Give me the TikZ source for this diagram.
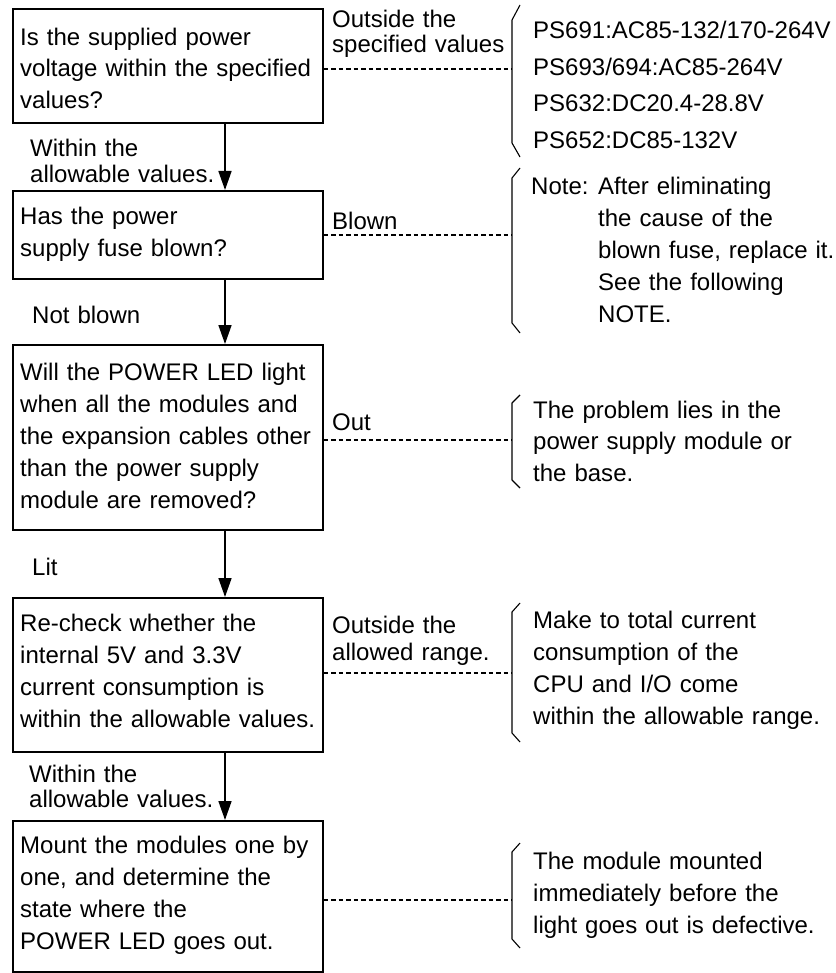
\documentclass[tikz,border=0pt]{standalone}
\usepackage{fontspec}
\setmainfont{Liberation Sans}
\usetikzlibrary{arrows.meta}
\begin{document}
\begin{tikzpicture}[x=1pt,y=-1pt,
  box/.style={draw, line width=1.6pt, inner sep=0pt, anchor=north west, minimum width=310pt},
  txt/.style={inner sep=0pt, anchor=base west, text width=400pt, align=left, font=\fontsize{24}{32}\selectfont},
  lbl/.style={txt, font=\fontsize{24}{25.5}\selectfont},
  arr/.style={line width=1.6pt, -{Triangle[length=19pt,width=13pt]}},
  dsh/.style={line width=1.2pt, dash pattern=on 4.5pt off 3pt},
  brc/.style={line width=1.1pt, line join=round}]
\useasboundingbox (0,0) rectangle (835,973);

% boxes
\node[box, minimum height=114pt] (b1) at (12,8) {};
\node[box, minimum height=88pt]  (b2) at (12,190) {};
\node[box, minimum height=185pt] (b3) at (12,344) {};
\node[box, minimum height=154pt] (b4) at (12,597) {};
\node[box, minimum height=151pt] (b5) at (12,820) {};

% box texts
\node[txt, font=\fontsize{24}{31.3}\selectfont] (t1) at (20,45.5) {Is the supplied power\\voltage within the specified\\values?};
\node[txt] (t2) at (20,225) {Has the power\\supply fuse blown?};
\node[txt] (t3) at (20,380) {Will the POWER LED light\\when all the modules and\\the expansion cables other\\than the power supply\\module are removed?};
\node[txt] (t4) at (20,631.5) {Re-check whether the\\internal 5V and 3.3V\\current consumption is\\within the allowable values.};
\node[txt] (t5) at (20,853) {Mount the modules one by\\one, and determine the\\state where the\\POWER LED goes out.};

% arrows
\draw[arr] ([xshift=213pt]b1.south west) -- ([xshift=213pt]b2.north west);
\draw[arr] ([xshift=213pt]b2.south west) -- ([xshift=213pt]b3.north west);
\draw[arr] ([xshift=213pt]b3.south west) -- ([xshift=213pt]b4.north west);
\draw[arr] ([xshift=213pt]b4.south west) -- ([xshift=213pt]b5.north west);

% left labels
\node[lbl] (l1) at (30,157) {Within the\\allowable values.};
\node[lbl] (l2) at (32,323) {Not blown};
\node[lbl] (l3) at (32,575) {Lit};
\node[lbl] (l4) at (29,782) {Within the\\allowable values.};

% right labels
\node[lbl, font=\fontsize{24}{25}\selectfont] (r1) at (332,28) {Outside the\\specified values};
\node[lbl] (r2) at (332,230) {Blown};
\node[lbl] (r3) at (332,430) {Out};
\node[lbl, font=\fontsize{24}{27}\selectfont] (r4) at (332,633) {Outside the\\allowed range.};

% braces
\draw[brc] (520,5) -- (512,20) -- (512,143) -- (520,157);
\coordinate (k1) at (512,69);
\draw[brc] (520,168) -- (512,178) -- (512,323) -- (520,333);
\coordinate (k2) at (512,235);
\draw[brc] (520,395) -- (512,403) -- (512,480) -- (520,488);
\coordinate (k3) at (512,440);
\draw[brc] (520,603) -- (512,612) -- (512,733) -- (520,742);
\coordinate (k4) at (512,673);
\draw[brc] (520,843) -- (512,852) -- (512,939) -- (520,948);
\coordinate (k5) at (512,900);

% dashed connectors
\draw[dsh] (b1.east |- k1) -- (k1);
\draw[dsh] (b2.east |- k2) -- (k2);
\draw[dsh] (b3.east |- k3) -- (k3);
\draw[dsh] (b4.east |- k4) -- (k4);
\draw[dsh] (b5.east |- k5) -- (k5);

% brace texts
\node[txt, font=\fontsize{24}{36.5}\selectfont] (n1) at (533,39) {PS691:AC85-132/170-264V\\PS693/694:AC85-264V\\PS632:DC20.4-28.8V\\PS652:DC85-132V};
\node[txt] (n2) at (531,195) {\makebox[67pt][l]{Note:}After eliminating\\\hspace*{67pt}the cause of the\\\hspace*{67pt}blown fuse, replace it.\\\hspace*{67pt}See the following\\\hspace*{67pt}NOTE.};
\node[txt, font=\fontsize{24}{31.5}\selectfont] (n3) at (533,418) {The problem lies in the\\power supply module or\\the base.};
\node[txt] (n4) at (533,628) {Make to total current\\consumption of the\\CPU and I/O come\\within the allowable range.};
\node[txt] (n5) at (533,869) {The module mounted\\immediately before the\\light goes out is defective.};
\end{tikzpicture}
\end{document}
